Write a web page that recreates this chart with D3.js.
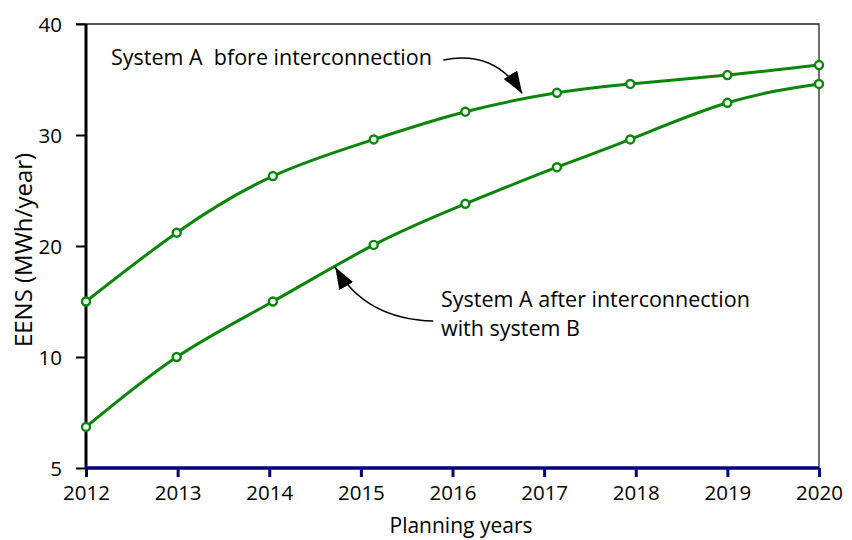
<!DOCTYPE html>
<html lang="en">
<head>
    <meta charset="UTF-8">
    <title>EENS vs planning years</title>
    <style>
        body { margin: 0; background: #fff; }
        svg { display: block; }
        text { font-family: "Open Sans", "Noto Sans", sans-serif; fill: #000; }
    </style>
</head>
<body>
<svg id="chart" width="852" height="540"></svg>

<script src="https://d3js.org/d3.v7.min.js"></script>
<script>
    // Data
    const years = [2012, 2013, 2014, 2015, 2016, 2017, 2018, 2019, 2020];
    // the plotted markers sit slightly off the year ticks in the original
    const pointYears = [2012.0, 2012.99, 2014.04, 2015.14, 2016.14, 2017.14, 2017.94, 2019.0, 2020.0];
    const beforeInterconnection = [15.0, 21.2, 26.3, 29.6, 32.1, 33.8, 34.6, 35.4, 36.3];
    const afterInterconnection = [3.7, 10.0, 15.0, 20.1, 23.8, 27.1, 29.6, 32.9, 34.6];
    const yTickValues = [0, 10, 20, 30, 40];
    const yTickLabels = ["5", "10", "20", "30", "40"];   // bottom label reads "5" in the original

    const svg = d3.select("#chart");
    const green = "#0a850a";
    const navy = "#000080";

    const x = d3.scaleLinear().domain([2012, 2020]).range([86, 819]);
    const y = d3.scaleLinear().domain([0, 40]).range([468, 24]);

    // frame: top + right thin lines
    svg.append("path")
        .attr("d", `M${x(2012) - 10},${y(40)} H${x(2020)} V${y(0) + 5}`)
        .attr("fill", "none")
        .attr("stroke", "#222")
        .attr("stroke-width", 1.3);

    // y axis (black, thick)
    const yAxis = svg.append("g")
        .attr("transform", `translate(${x(2012)},0)`)
        .call(d3.axisLeft(y).tickValues(yTickValues).tickSize(10).tickPadding(14)
            .tickFormat((d, i) => yTickLabels[i]));
    yAxis.select(".domain").attr("stroke", "#000").attr("stroke-width", 3)
        .attr("d", `M0,${y(40)}V${y(0)}`);
    yAxis.selectAll(".tick line").attr("stroke", "#000").attr("stroke-width", 2);
    yAxis.selectAll(".tick text").style("font-size", "20.5px").attr("dy", "0.35em");

    // x axis (navy)
    const xAxis = svg.append("g")
        .attr("transform", `translate(0,${y(0)})`)
        .call(d3.axisBottom(x).tickValues(years).tickSize(9).tickPadding(8)
            .tickFormat(d3.format("d")));
    xAxis.select(".domain").attr("stroke", navy).attr("stroke-width", 3.5)
        .attr("d", `M${x(2012)},0H${x(2020)}`);
    xAxis.selectAll(".tick line").attr("stroke", navy).attr("stroke-width", 3);
    xAxis.selectAll(".tick text").style("font-size", "20.5px");

    // axis titles
    svg.append("text")
        .attr("x", 461)
        .attr("y", 533)
        .attr("text-anchor", "middle")
        .style("font-size", "21px")
        .text("Planning years");

    svg.append("text")
        .attr("transform", `translate(32,250) rotate(-90)`)
        .attr("text-anchor", "middle")
        .style("font-size", "24px")
        .text("EENS (MWh/year)");

    // series
    const line = d3.line()
        .x(d => x(d[0]))
        .y(d => y(d[1]))
        .curve(d3.curveNatural);

    [beforeInterconnection, afterInterconnection].forEach(values => {
        const pts = pointYears.map((yr, i) => [yr, values[i]]);
        svg.append("path")
            .datum(pts)
            .attr("d", line)
            .attr("fill", "none")
            .attr("stroke", green)
            .attr("stroke-width", 3);
        svg.selectAll(null)
            .data(pts)
            .enter().append("circle")
            .attr("cx", d => x(d[0]))
            .attr("cy", d => y(d[1]))
            .attr("r", 4)
            .attr("fill", "#fff")
            .attr("stroke", green)
            .attr("stroke-width", 2.4);
    });

    // annotations with curved arrows
    svg.append("defs").append("marker")
        .attr("id", "arrow")
        .attr("markerUnits", "userSpaceOnUse")
        .attr("viewBox", "0 0 22 16")
        .attr("refX", 22).attr("refY", 8)
        .attr("markerWidth", 22).attr("markerHeight", 16)
        .attr("orient", "auto")
        .append("path")
        .attr("d", "M0,0 L22,8 L0,16 Z")
        .attr("fill", "#000");

    svg.append("text")
        .attr("x", 111)
        .attr("y", 65)
        .style("font-size", "21.5px")
        .style("white-space", "pre")
        .text("System A  bfore interconnection");

    const a1 = [[2015.90, 36.76], [2016.46, 37.7], [2016.76, 33.75]];
    svg.append("path")
        .attr("d", `M${x(a1[0][0])},${y(a1[0][1])} Q${x(a1[1][0])},${y(a1[1][1])} ${x(a1[2][0])},${y(a1[2][1])}`)
        .attr("fill", "none")
        .attr("stroke", "#000")
        .attr("stroke-width", 1.5)
        .attr("marker-end", "url(#arrow)");

    const label2 = svg.append("text")
        .attr("x", 441)
        .attr("y", 307)
        .style("font-size", "21.5px");
    label2.append("tspan").attr("x", 441).text("System A after interconnection");
    label2.append("tspan").attr("x", 441).attr("dy", 29).text("with system B");

    const a2 = [[2015.79, 13.24], [2015.05, 13.4], [2014.72, 18.1]];
    svg.append("path")
        .attr("d", `M${x(a2[0][0])},${y(a2[0][1])} Q${x(a2[1][0])},${y(a2[1][1])} ${x(a2[2][0])},${y(a2[2][1])}`)
        .attr("fill", "none")
        .attr("stroke", "#000")
        .attr("stroke-width", 1.5)
        .attr("marker-end", "url(#arrow)");
</script>
</body>
</html>
